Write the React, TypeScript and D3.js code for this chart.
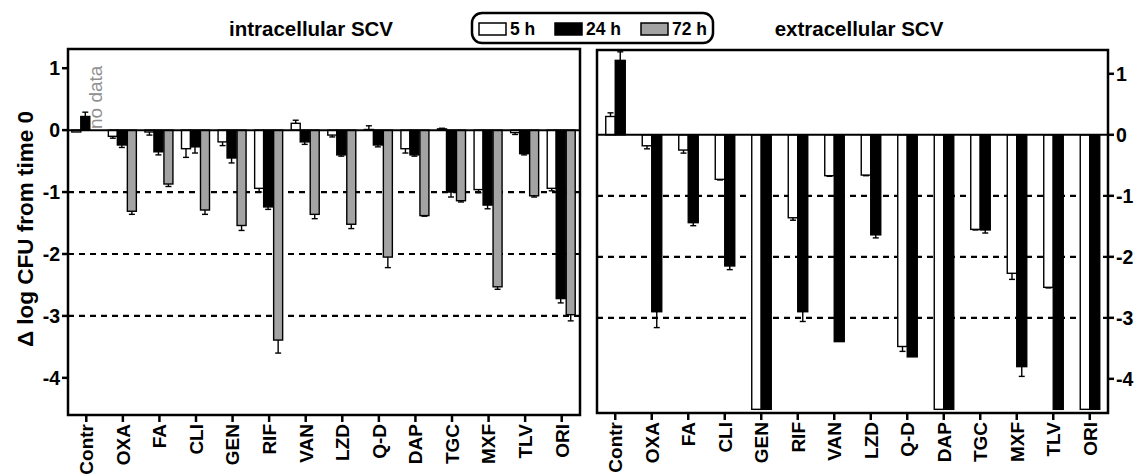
import React from "react"
import * as d3 from "d3"

// Antibiotika-Kategorien (beide Panels)
const categories = ["Contr", "OXA", "FA", "CLI", "GEN", "RIF", "VAN", "LZD", "Q-D", "DAP", "TGC", "MXF", "TLV", "ORI"]

// intrazellulär: Mittelwerte und SEM
const intra5h = [-0.03, -0.1, -0.03, -0.3, -0.19, -0.94, 0.11, -0.08, 0.01, -0.3, 0.02, -0.96, -0.04, -0.94]
const intra5hErr = [0.0, 0.03, 0.05, 0.14, 0.06, 0.06, 0.05, 0.03, 0.06, 0.07, 0.01, 0.05, 0.03, 0.04]
const intra24h = [0.22, -0.24, -0.35, -0.27, -0.45, -1.24, -0.19, -0.4, -0.24, -0.4, -1.0, -1.21, -0.38, -2.72]
const intra24hErr = [0.07, 0.04, 0.05, 0.1, 0.08, 0.04, 0.04, 0.02, 0.03, 0.02, 0.08, 0.06, 0.02, 0.07]
const intra72h: (number | null)[] = [null, -1.31, -0.87, -1.29, -1.54, -3.39, -1.36, -1.52, -2.05, -1.38, -1.14, -2.53, -1.06, -2.98]
const intra72hErr = [0, 0.05, 0.04, 0.07, 0.08, 0.21, 0.07, 0.07, 0.17, 0.01, 0.02, 0.04, 0.02, 0.1]

// extrazellulär: Mittelwerte und SEM
const extra5h = [0.3, -0.18, -0.25, -0.73, -4.5, -1.36, -0.67, -0.66, -3.47, -4.5, -1.55, -2.27, -2.5, -4.5]
const extra5hErr = [0.06, 0.05, 0.05, 0.01, 0, 0.04, 0.01, 0.01, 0.08, 0, 0.01, 0.1, 0.01, 0]
const extra24h = [1.22, -2.9, -1.44, -2.15, -4.5, -2.9, -3.39, -1.64, -3.64, -4.5, -1.56, -3.8, -4.5, -4.5]
const extra24hErr = [0.14, 0.26, 0.05, 0.06, 0, 0.16, 0.0, 0.05, 0.0, 0, 0.05, 0.16, 0, 0]

const yTicks = [1, 0, -1, -2, -3, -4]
const gridValues = [-1, -2, -3]

const FONT = "'Liberation Sans', Arial, Helvetica, sans-serif"
const GRAY = "#a3a3a3"

type Series = { values: (number | null)[]; errors: number[]; fill: string; offset: number; width: number }

function Panel({
  x0, x1, yTop, yBot, domain, series, axisSide,
}: {
  x0: number; x1: number; yTop: number; yBot: number; domain: [number, number]; series: Series[]; axisSide: "left" | "right"
}) {
  const x = d3.scaleBand<string>().domain(categories).range([x0, x1]).padding(0)
  const y = d3.scaleLinear().domain(domain).range([yTop, yBot])
  const cx = (c: string) => (x(c) || 0) + x.bandwidth() / 2
  const y0 = y(0)
  const axisX = axisSide === "left" ? x0 : x1
  const tickDir = axisSide === "left" ? -1 : 1

  return (
    <g>
      {/* gestrichelte Hilfslinien */}
      {gridValues.map((g) => (
        <line key={g} x1={x0} x2={x1} y1={y(g)} y2={y(g)} stroke="#000" strokeWidth={2.2} strokeDasharray="6,5" />
      ))}

      {/* Balken */}
      {series.map((s, si) =>
        categories.map((c, i) => {
          const v = s.values[i]
          if (v === null || v === undefined) return null
          const bx = cx(c) + s.offset
          const top = Math.min(y(v), y0)
          const h = Math.abs(y(v) - y0)
          const e = s.errors[i]
          const ye = y(v + (v >= 0 ? e : -e))
          return (
            <g key={`${si}-${c}`}>
              {e > 0 && (
                <g stroke="#000" strokeWidth={1.4}>
                  <line x1={bx + s.width / 2} x2={bx + s.width / 2} y1={y(v)} y2={ye} />
                  <line x1={bx + s.width / 2 - 3} x2={bx + s.width / 2 + 3} y1={ye} y2={ye} />
                </g>
              )}
              <rect x={bx} y={top} width={s.width} height={Math.max(h, 0.8)} fill={s.fill} stroke="#000" strokeWidth={1.4} />
            </g>
          )
        })
      )}

      {/* Nulllinie */}
      <line x1={x0} x2={x1} y1={y0} y2={y0} stroke="#000" strokeWidth={2} />

      {/* Rahmen */}
      <rect x={x0} y={yTop} width={x1 - x0} height={yBot - yTop} fill="none" stroke="#000" strokeWidth={2.5} />

      {/* y-Achse */}
      {yTicks.map((t) => (
        <g key={t}>
          <line x1={axisX} x2={axisX + tickDir * 6} y1={y(t)} y2={y(t)} stroke="#000" strokeWidth={2.5} />
          <text
            x={axisX + tickDir * 8}
            y={y(t)}
            dy="0.36em"
            textAnchor={axisSide === "left" ? "end" : "start"}
            fontFamily={FONT}
            fontWeight="bold"
            fontSize={19.5}
          >
            {t}
          </text>
        </g>
      ))}

      {/* x-Achse */}
      {categories.map((c) => (
        <g key={c}>
          <line x1={cx(c)} x2={cx(c)} y1={yBot} y2={yBot + 7} stroke="#000" strokeWidth={2.5} />
          <text
            transform={`translate(${cx(c)},${yBot + 9}) rotate(-90)`}
            dy="0.36em"
            textAnchor="end"
            fontFamily={FONT}
            fontWeight="bold"
            fontSize={19}
          >
            {c}
          </text>
        </g>
      ))}
    </g>
  )
}

export default function App() {
  const W = 1135
  const H = 476

  const leftSeries: Series[] = [
    { values: intra5h, errors: intra5hErr, fill: "#fff", offset: -14.5, width: 9 },
    { values: intra24h, errors: intra24hErr, fill: "#000", offset: -5.5, width: 9 },
    { values: intra72h, errors: intra72hErr, fill: GRAY, offset: 4.5, width: 9 },
  ]
  const rightSeries: Series[] = [
    { values: extra5h, errors: extra5hErr, fill: "#fff", offset: -9.5, width: 9.5 },
    { values: extra24h, errors: extra24hErr, fill: "#000", offset: 0, width: 10 },
  ]

  const legend = [
    { label: "5 h", fill: "#fff", x: 479 },
    { label: "24 h", fill: "#000", x: 555 },
    { label: "72 h", fill: GRAY, x: 641 },
  ]

  return (
    <svg width={W} height={H} style={{ position: "absolute", left: 0, top: 0, background: "#fff" }}>
      <rect width={W} height={H} fill="#fff" />

      <Panel x0={68} x1={580} yTop={49} yBot={415} domain={[1.31, -4.6]} series={leftSeries} axisSide="left" />
      <Panel x0={597} x1={1108} yTop={50} yBot={413} domain={[1.39, -4.56]} series={rightSeries} axisSide="right" />

      {/* "no data" bei Contr 72 h */}
      <text
        transform="translate(102,129) rotate(-90)"
        fontFamily={FONT}
        fontSize={19}
        fill="#8f8f8f"
      >
        no data
      </text>

      {/* Titel */}
      <text x={311} y={36} textAnchor="middle" fontFamily={FONT} fontWeight="bold" fontSize={20.5}>
        intracellular SCV
      </text>
      <text x={859} y={36} textAnchor="middle" fontFamily={FONT} fontWeight="bold" fontSize={20.5}>
        extracellular SCV
      </text>

      {/* y-Achsentitel */}
      <text
        transform="translate(33,229) rotate(-90)"
        textAnchor="middle"
        fontFamily={FONT}
        fontWeight="bold"
        fontSize={22.5}
      >
        Δ log CFU from time 0
      </text>

      {/* Legende */}
      <rect x={472} y={13} width={241} height={30} rx={10} ry={10} fill="#fff" stroke="#000" strokeWidth={2.5} />
      {legend.map((l) => (
        <g key={l.label}>
          <rect x={l.x} y={23} width={27} height={12} fill={l.fill} stroke="#000" strokeWidth={1.5} />
          <text x={l.x + 31} y={35} fontFamily={FONT} fontWeight="bold" fontSize={17.5}>
            {l.label}
          </text>
        </g>
      ))}
    </svg>
  )
}
